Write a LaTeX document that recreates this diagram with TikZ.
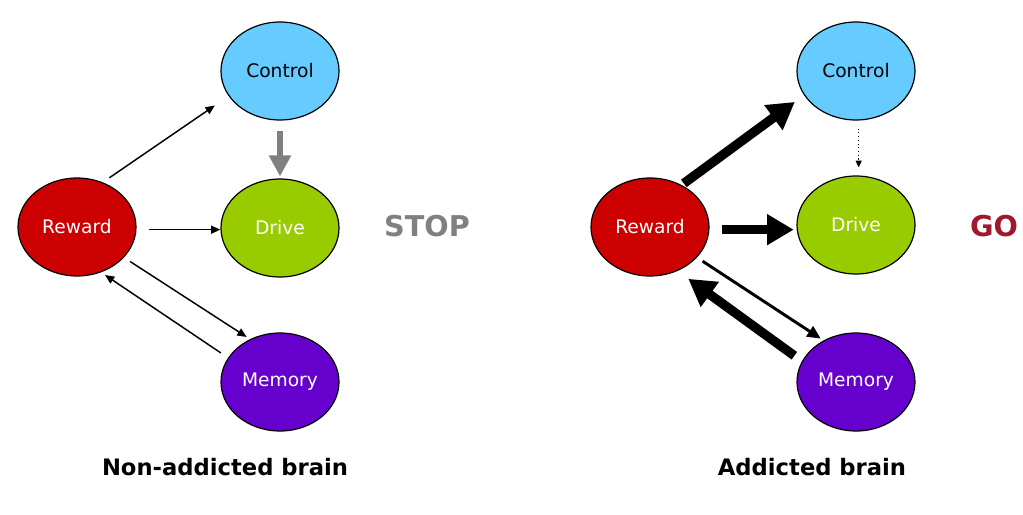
\documentclass[tikz,border=0pt]{standalone}
\usepackage{fontspec}
\setmainfont{DejaVu Sans}
\usetikzlibrary{arrows.meta,shapes.geometric}
\definecolor{rewardred}{HTML}{CC0000}
\definecolor{controlblue}{HTML}{66CCFF}
\definecolor{drivegreen}{HTML}{99CC00}
\definecolor{memorypurple}{HTML}{6600CC}
\definecolor{gored}{HTML}{A0182E}
\definecolor{stopgray}{HTML}{808080}
\tikzset{
    area/.style={ellipse,draw=black,line width=0.9pt,minimum width=88.5pt,minimum height=73.5pt,inner sep=0pt,font=\fontsize{14}{16}\selectfont},
    thinarrow/.style={line width=1.1pt,-{Triangle[length=7pt,width=6pt]}},
    midarrow/.style={line width=2.2pt,-{Triangle[length=10pt,width=9pt]}},
    fatarrow/.style={line width=7pt,-{Triangle[length=20pt,width=22pt]}},
    dotarrow/.style={line width=0.8pt,dotted,-{Triangle[length=5pt,width=4.5pt]}},
    verdict/.style={font=\bfseries\fontsize{21.5}{24}\selectfont},
    caption/.style={font=\bfseries\fontsize{17}{20}\selectfont}
}

\begin{document}
\begin{tikzpicture}[x=0.75pt,y=-0.75pt]
    \useasboundingbox (0,0) rectangle (1023,514);

    % left: the non-addicted brain
    \node[area,fill=controlblue] (ctl1) at (280,71) {Control};
    \node[area,fill=drivegreen,text=white] (drv1) at (280,228) {Drive};
    \node[area,fill=rewardred,text=white] (rew1) at (77,227) {Reward};
    \node[area,fill=memorypurple,text=white] (mem1) at (280,382) {Memory};

    \draw[thinarrow,shorten <=6pt,shorten >=12.5pt] (rew1.60) -- (ctl1.206);
    \draw[thinarrow,shorten <=9pt] ([yshift=-2pt]rew1.east) -- ([yshift=-2pt]rew1.east -| drv1.west);
    \draw[thinarrow,shorten <=5.5pt,shorten >=3pt] (rew1.-33) -- (mem1.125);
    \draw[thinarrow,shorten <=6.5pt,shorten >=3.5pt] (mem1.155) -- (rew1.-62);
    \draw[fatarrow,stopgray,line width=4.5pt,-{Triangle[length=15.75pt,width=15.75pt]},shorten <=8pt,shorten >=1.5pt] (ctl1.south) -- (drv1.north);

    \node[verdict,text=stopgray] (stop) at (427,226) {STOP};
    \node[caption] (cap1) at (225,467) {Non-addicted brain};

    % right: the addicted brain
    \node[area,fill=controlblue] (ctl2) at (856,71) {Control};
    \node[area,fill=drivegreen,text=white] (drv2) at (856,225) {Drive};
    \node[area,fill=rewardred,text=white] (rew2) at (650,227) {Reward};
    \node[area,fill=memorypurple,text=white] (mem2) at (856,382) {Memory};

    \draw[fatarrow,shorten <=2pt,shorten >=8.5pt] (rew2.53) -- (ctl2.205);
    \draw[fatarrow,shorten <=9pt,shorten >=2pt] ([yshift=-2pt]rew2.east) -- ([yshift=-2pt]rew2.east -| drv2.west);
    \draw[dotarrow,shorten <=6pt,shorten >=6pt] ([xshift=2pt]ctl2.south) -- ([xshift=2pt]drv2.north);
    \draw[midarrow,shorten <=5pt,shorten >=2.5pt] (rew2.-33) -- (mem2.128);
    \draw[fatarrow,shorten <=7pt,shorten >=10pt] (mem2.159) -- (rew2.-58);

    \node[verdict,text=gored] (go) at (994,226) {GO};
    \node[caption] (cap2) at (812,467) {Addicted brain};
\end{tikzpicture}
\end{document}
